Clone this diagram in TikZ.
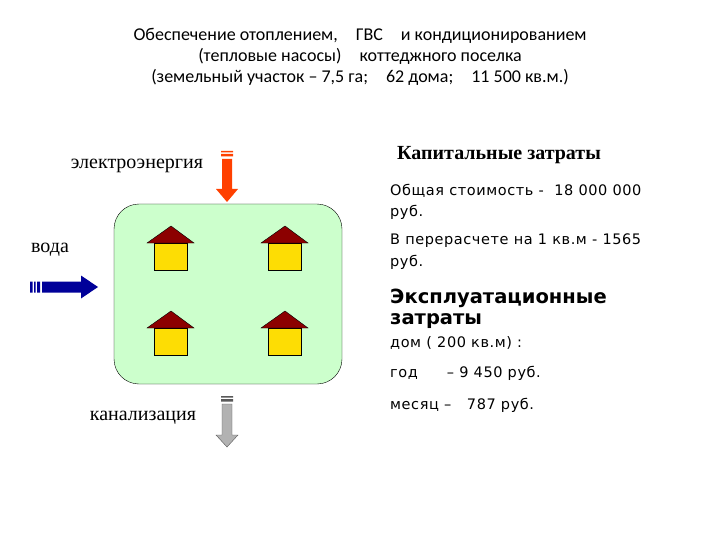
\documentclass[tikz,border=0pt]{standalone}
\usepackage{fontspec}
\setmainfont{Liberation Serif}
\newfontfamily\calfont{Carlito}
\newfontfamily\dvfont[LetterSpace=4]{DejaVu Sans}
\newfontfamily\dvbfont{DejaVu Sans}
\begin{document}
\begin{tikzpicture}[x=1pt,y=-1pt,
 house/.pic={\fill[yellow!80!orange,draw=black] (-17,0) rectangle (16,27);
   \fill[red!55!black,draw=black] (-24,0) -- (0,-17) -- (23,0) -- cycle;},
 rt/.style={font=\dvfont\fontsize{14.5}{15}\selectfont,anchor=west,inner sep=0},
 lab/.style={font=\fontsize{20}{22}\selectfont,inner sep=0}]
\useasboundingbox (0,0) rectangle (720,540);
\node[font=\calfont\fontsize{18}{21}\selectfont,align=center] (title) at (360,57)
 {Обеспечение отоплением,\quad ГВС\quad и кондиционированием\\(тепловые насосы)\quad коттеджного поселка\\(земельный участок – 7,5 га;\quad 62 дома;\quad 11 500 кв.м.)};
\node[draw=black,fill=green!20,rounded corners=25,minimum width=228,minimum height=180] (box) at (228,294) {};
\foreach \x/\y in {171/243,285/243,171/328,285/328} \pic at (\x,\y) {house};
% red arrow
\fill[red!50!orange] (222,159) -- (232,159) -- (232,189) -- (238,189) -- (227,202) -- (216,189) -- (222,189) -- cycle;
\fill[red!50!orange] (221,151) rectangle (233,152.5) (221,154) rectangle (233,156.5);
% blue arrow
\fill[blue!60!black] (42,281.5) -- (81,281.5) -- (81,275.5) -- (98,287) -- (81,298.5) -- (81,292.5) -- (42,292.5) -- cycle;
\fill[blue!60!black] (30,281.5) rectangle (32.5,292.5) (34,281.5) rectangle (35.5,292.5) (37,281.5) rectangle (40,292.5);
% gray arrow
\fill[gray!60,draw=gray!70!black] (222,404) -- (232,404) -- (232,435) -- (238,435) -- (227,447) -- (216,435) -- (222,435) -- cycle;
\fill[gray!70!black] (221,396) rectangle (233,397.5) (221,399) rectangle (233,401.5);
\node[lab] (el) at (137,166) {электроэнергия};
\node[lab] (water) at (50,250) {вода};
\node[lab] (san) at (143,418) {канализация};
\node[font=\bfseries\fontsize{20}{22}\selectfont,anchor=west,inner sep=0] (cap) at (397,155) {Капитальные затраты};
\node[rt] (c1) at (390,191) {Общая стоимость -\ \ 18 000 000};
\node[rt] (c2) at (390,212) {руб.};
\node[rt] (c3) at (390,241) {В перерасчете на 1 кв.м - 1565};
\node[rt] (c4) at (390,262) {руб.};
\node[font=\dvbfont\bfseries\fontsize{19.5}{22}\selectfont,anchor=west,inner sep=0] (ex1) at (390,298) {Эксплуатационные};
\node[font=\dvbfont\bfseries\fontsize{19.5}{22}\selectfont,anchor=west,inner sep=0] (ex2) at (390,321) {затраты};
\node[rt] (d1) at (390,343) {дом ( 200 кв.м) :};
\node[rt] (d2) at (390,373) {год\qquad – 9 450 руб.};
\node[rt] (d3) at (390,405) {месяц –\ \ \ 787 руб.};
\end{tikzpicture}
\end{document}
